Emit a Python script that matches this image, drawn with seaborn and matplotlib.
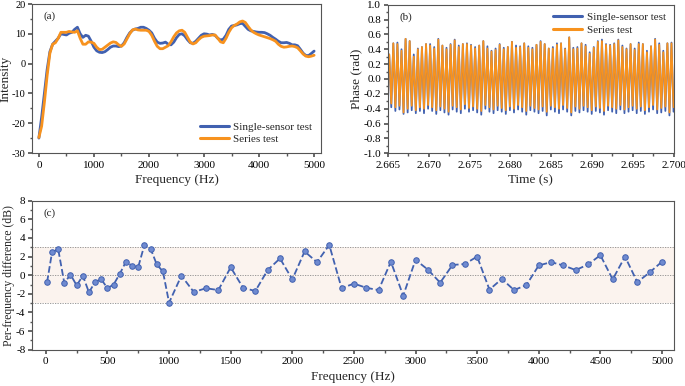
import numpy as np
import pandas as pd
import matplotlib
matplotlib.use("Agg")
import matplotlib.pyplot as plt
import seaborn as sns
from matplotlib.ticker import MultipleLocator, FormatStrFormatter

# ---- (a) intensity spectra, sampled every 50 Hz ----
freq_a = list(range(0, 5001, 50))
single_a = [-25, -18, -10, -2, 4, 6.5, 7.5, 8.5, 10, 9.8,
            9.6, 10.2, 10.5, 11.5, 12.2, 10, 8.8, 9.5, 9.2, 7.5,
            5.5, 4.3, 3.8, 3.7, 4, 4.7, 5.5, 5.9, 5.9, 5.7,
            5.9, 7, 8.8, 10.3, 11.2, 11.6, 11.8, 12.2, 12.2, 11.8,
            11.2, 10.3, 8.5, 7.2, 6.8, 6.9, 7.2, 6.5, 6.3, 7.2,
            8.7, 9.8, 10, 9.3, 8, 7, 6.8, 7.5, 8.5, 9.5,
            10, 9.9, 9.6, 9.8, 9.5, 8.5, 7.9, 8.2, 9.5, 11.5,
            12.6, 12.8, 13, 13.4, 13.5, 12.5, 11.5, 11, 10.8, 10.6,
            10.5, 10.5, 10.4, 10, 9.5, 8.8, 8.2, 7.5, 7, 7,
            7.1, 6.8, 6.3, 6.3, 6, 4.8, 3.5, 2.7, 2.7, 3.4, 4.2]
series_a = [-24.8, -21, -13, -4, 3.5, 6.5, 7, 8.5, 10.5, 10.5,
            10.5, 10.8, 10.6, 10.5, 11, 8.5, 6.5, 6.5, 7.3, 7.2,
            6.8, 5.5, 4.7, 4.8, 5.5, 6.2, 6.9, 7.3, 7.1, 6.3,
            5.8, 6.6, 8.3, 10, 11.3, 11.6, 11.3, 11.2, 11.2, 11.2,
            10.8, 9.5, 7.5, 5.8, 5, 5, 5.5, 6, 7.3, 9,
            10.3, 11, 11.2, 10.5, 8.8, 7.2, 6.6, 7, 8, 8.8,
            9.2, 9.3, 9.4, 9.6, 9.6, 8.5, 7.3, 7, 8.5, 10.5,
            12, 12.8, 13.3, 14, 14.3, 13.8, 12.5, 11.3, 10.5, 10,
            9.6, 9.3, 9, 8.7, 8.4, 8, 7.5, 6.5, 5.8, 5.5,
            5.6, 5.8, 5.9, 5.7, 5.3, 4.3, 3.2, 2.5, 2.3, 2.5, 2.8]

# ---- (b) phase signal: peak / trough values of each cycle ----
t_first_peak = 2.66515
cycle_period = 0.0005015
peaks_series = [0.33, 0.48, 0.47, 0.38, 0.54, 0.51, 0.30, 0.40, 0.43, 0.47,
                0.45, 0.41, 0.53, 0.45, 0.40, 0.46, 0.52, 0.43, 0.47, 0.47,
                0.45, 0.41, 0.45, 0.51, 0.41, 0.37, 0.39, 0.46, 0.40, 0.43,
                0.50, 0.42, 0.43, 0.48, 0.42, 0.40, 0.46, 0.50, 0.47, 0.41,
                0.41, 0.46, 0.48, 0.40, 0.56, 0.40, 0.41, 0.48, 0.44, 0.34,
                0.42, 0.50, 0.51, 0.46, 0.45, 0.47, 0.52, 0.43, 0.40, 0.47,
                0.39, 0.47, 0.47, 0.36, 0.44, 0.53, 0.46, 0.36, 0.48, 0.48]
peaks_single = [0.33, 0.48, 0.49, 0.40, 0.54, 0.51, 0.33, 0.41, 0.43, 0.47,
                0.47, 0.43, 0.54, 0.45, 0.42, 0.47, 0.53, 0.45, 0.47, 0.48,
                0.46, 0.43, 0.45, 0.51, 0.44, 0.38, 0.41, 0.47, 0.42, 0.43,
                0.50, 0.45, 0.44, 0.48, 0.44, 0.42, 0.46, 0.51, 0.47, 0.41,
                0.43, 0.48, 0.48, 0.41, 0.56, 0.42, 0.43, 0.48, 0.46, 0.36,
                0.43, 0.51, 0.53, 0.47, 0.46, 0.48, 0.53, 0.45, 0.41, 0.47,
                0.41, 0.49, 0.47, 0.38, 0.44, 0.54, 0.48, 0.38, 0.48, 0.49]
troughs_series = [-0.33, -0.38, -0.36, -0.45, -0.40, -0.36, -0.42, -0.38, -0.40, -0.35,
                  -0.38, -0.42, -0.37, -0.40, -0.44, -0.36, -0.38, -0.41, -0.34, -0.39,
                  -0.37, -0.40, -0.43, -0.35, -0.38, -0.41, -0.36, -0.39, -0.42, -0.37,
                  -0.40, -0.35, -0.38, -0.43, -0.36, -0.39, -0.41, -0.37, -0.44, -0.36,
                  -0.38, -0.40, -0.35, -0.39, -0.45, -0.37, -0.40, -0.36, -0.38, -0.42,
                  -0.37, -0.39, -0.43, -0.36, -0.38, -0.40, -0.35, -0.41, -0.38, -0.36,
                  -0.40, -0.37, -0.42, -0.38, -0.35, -0.41, -0.39, -0.37, -0.45, -0.38]
troughs_single = [-0.38, -0.43, -0.41, -0.47, -0.45, -0.42, -0.46, -0.43, -0.46, -0.40,
                  -0.43, -0.47, -0.42, -0.45, -0.48, -0.41, -0.44, -0.46, -0.40, -0.44,
                  -0.42, -0.45, -0.48, -0.40, -0.44, -0.46, -0.42, -0.44, -0.47, -0.42,
                  -0.45, -0.41, -0.44, -0.48, -0.42, -0.44, -0.46, -0.43, -0.49, -0.41,
                  -0.44, -0.46, -0.41, -0.44, -0.49, -0.43, -0.45, -0.42, -0.44, -0.47,
                  -0.43, -0.45, -0.48, -0.42, -0.44, -0.46, -0.41, -0.46, -0.44, -0.42,
                  -0.46, -0.43, -0.47, -0.44, -0.41, -0.46, -0.45, -0.43, -0.49, -0.44]

# ---- (c) per-frequency difference ----
freq_c = [10, 50, 100, 150, 200, 250, 300, 350, 400, 450, 500, 550, 600, 650,
          700, 750, 800, 850, 900, 950, 1000, 1100, 1200, 1300, 1400, 1500,
          1600, 1700, 1800, 1900, 2000, 2100, 2200, 2300, 2400, 2500, 2600,
          2700, 2800, 2900, 3000, 3100, 3200, 3300, 3400, 3500, 3600, 3700,
          3800, 3900, 4000, 4100, 4200, 4300, 4400, 4500, 4600, 4700, 4800,
          4900, 5000]
diff_c = [-0.75, 2.45, 2.8, -0.85, 0.07, -1.1, -0.05, -1.85, -0.7, -0.45,
          -1.4, -1.0, 0.15, 1.45, 1.0, 0.9, 3.25, 2.85, 1.15, 0.4,
          -2.95, -0.05, -1.8, -1.4, -1.6, 0.85, -1.35, -1.7, 0.55, 1.8,
          -0.45, 2.55, 1.4, 3.25, -1.4, -0.9, -1.35, -1.6, 1.45, -2.2,
          1.65, 0.6, -0.8, 1.1, 1.2, 2.0, -1.55, -0.4, -1.6, -1.05,
          1.05, 1.4, 1.05, 0.55, 1.15, 2.15, -0.45, 2.0, -0.75, 0.3, 1.45]
band_limit = 3

BLUE = "#4161B0"
ORANGE = "#F7921E"

sns.set_theme(style="ticks")
plt.rcParams["font.family"] = ["Liberation Serif", "DejaVu Serif"]
plt.rcParams.update({
    "axes.unicode_minus": False,
    "axes.edgecolor": "#555555",
    "axes.linewidth": 0.8,
    "xtick.color": "#555555",
    "ytick.color": "#555555",
    "xtick.labelcolor": "black",
    "ytick.labelcolor": "black",
    "xtick.labelsize": 8,
    "ytick.labelsize": 8,
    "xtick.major.size": 3,
    "ytick.major.size": 3,
    "xtick.minor.size": 1.8,
    "ytick.minor.size": 1.8,
    "xtick.major.pad": 2.5,
    "ytick.major.pad": 2,
    "axes.labelsize": 9.5,
})

W, H = 685, 386
fig = plt.figure(figsize=(W / 100, H / 100), dpi=100)


def px_axes(left, top, right, bottom):
    return fig.add_axes([left / W, 1 - bottom / H, (right - left) / W, (bottom - top) / H])


# ---------------- (a) ----------------
ax_a = px_axes(32, 4, 321, 153)
df_a = pd.DataFrame({
    "freq": freq_a * 2,
    "val": single_a + series_a,
    "kind": ["Single-sensor test"] * len(freq_a) + ["Series test"] * len(freq_a),
})
sns.lineplot(data=df_a, x="freq", y="val", hue="kind",
             palette={"Single-sensor test": BLUE, "Series test": ORANGE},
             linewidth=2.0, ax=ax_a, legend=True)
ax_a.set_xlim(-125, 5125)
ax_a.set_ylim(-30, 20)
ax_a.xaxis.set_major_locator(MultipleLocator(1000))
ax_a.xaxis.set_minor_locator(MultipleLocator(500))
ax_a.yaxis.set_major_locator(MultipleLocator(10))
ax_a.yaxis.set_minor_locator(MultipleLocator(5))
ax_a.tick_params(axis="y", labelsize=7.5, pad=1.5)
ax_a.set_xlabel("Frequency (Hz)", labelpad=3)
ax_a.set_ylabel("Intensity", fontsize=9.5, va="center")
ax_a.yaxis.set_label_coords((5.5 - 32) / 289, 0.5)
ax_a.text(0.04, 0.95, "(a)", transform=ax_a.transAxes, fontsize=8, va="top")
leg = ax_a.legend(loc="lower right", frameon=False, fontsize=8, handlelength=2.6,
                  handletextpad=0.4, labelspacing=0.25, borderaxespad=0.4)
for h in leg.get_lines():
    h.set_linewidth(2.2)

# ---------------- (b) ----------------
ax_b = px_axes(388, 4.7, 673.5, 153.3)
t_vals, ph_single, ph_series = [], [], []
for k in range(len(peaks_series)):
    tp = t_first_peak + k * cycle_period
    t_vals += [tp, tp + cycle_period / 2]
    ph_single += [peaks_single[k], troughs_single[k]]
    ph_series += [peaks_series[k], troughs_series[k]]
df_b = pd.DataFrame({
    "t": t_vals * 2,
    "phase": ph_single + ph_series,
    "kind": ["Single-sensor test"] * len(t_vals) + ["Series test"] * len(t_vals),
})
sns.lineplot(data=df_b, x="t", y="phase", hue="kind", sort=False,
             palette={"Single-sensor test": BLUE, "Series test": ORANGE},
             linewidth=1.3, ax=ax_b, estimator=None)
ax_b.set_xlim(2.665, 2.700)
ax_b.set_ylim(-1.0, 1.0)
ax_b.xaxis.set_major_locator(MultipleLocator(0.005))
ax_b.xaxis.set_minor_locator(MultipleLocator(0.0025))
ax_b.xaxis.set_major_formatter(FormatStrFormatter("%.3f"))
ax_b.yaxis.set_major_locator(MultipleLocator(0.2))
ax_b.yaxis.set_minor_locator(MultipleLocator(0.1))
ax_b.yaxis.set_major_formatter(FormatStrFormatter("%.1f"))
ax_b.set_xlabel("Time (s)", labelpad=3)
ax_b.set_ylabel("Phase (rad)", labelpad=1)
ax_b.text(0.04, 0.95, "(b)", transform=ax_b.transAxes, fontsize=8, va="top")
leg = ax_b.legend(loc="upper right", frameon=False, fontsize=8, handlelength=2.6,
                  handletextpad=0.4, labelspacing=0.25, borderaxespad=0.3)
for h in leg.get_lines():
    h.set_linewidth(2.2)

# ---------------- (c) ----------------
ax_c = px_axes(32.3, 200.7, 674.3, 349.7)
ax_c.axhspan(-band_limit, band_limit, color="#FBF3EE", zorder=0, lw=0)
for yv in (-band_limit, 0, band_limit):
    ax_c.axhline(yv, color="#8A8A8A", lw=0.6, ls=(0, (1.5, 1.5)), zorder=1)
sns.lineplot(x=freq_c, y=diff_c, ax=ax_c, color=BLUE, linewidth=1.3,
             linestyle="--", marker="o", markersize=4.0,
             markerfacecolor="#6F8AD0", markeredgecolor=BLUE,
             markeredgewidth=0.7, zorder=3)
ax_c.set_xlim(-110, 5100)
ax_c.set_ylim(-8, 8)
ax_c.xaxis.set_major_locator(MultipleLocator(500))
ax_c.xaxis.set_minor_locator(MultipleLocator(250))
ax_c.yaxis.set_major_locator(MultipleLocator(2))
ax_c.yaxis.set_minor_locator(MultipleLocator(1))
ax_c.set_xlabel("Frequency (Hz)", labelpad=3)
ax_c.set_ylabel("Per-frequency difference (dB)", labelpad=1, fontsize=8.5)
ax_c.text(0.018, 0.95, "(c)", transform=ax_c.transAxes, fontsize=8, va="top")

for ax in (ax_a, ax_b, ax_c):
    ax.tick_params(which="both", direction="out", top=False, right=False)
    for s in ax.spines.values():
        s.set_visible(True)

fig.savefig("out.png", dpi=100)
